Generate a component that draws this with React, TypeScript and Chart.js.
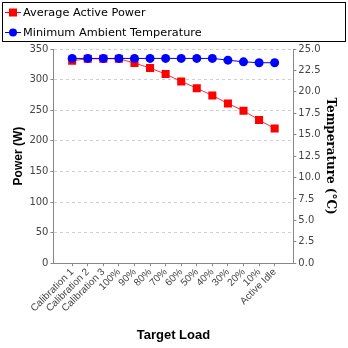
import React, { useEffect, useRef } from "react";
import { Chart, registerables } from "chart.js";

Chart.register(...registerables);

const categories = [
  "Calibration 1", "Calibration 2", "Calibration 3", "100%", "90%", "80%", "70%",
  "60%", "50%", "40%", "30%", "20%", "10%", "Active Idle",
];
const powerValues = [331, 334, 334, 334, 327, 319, 309, 297, 286, 274, 261, 249, 234, 220];
const tempValues = [23.9, 23.9, 23.9, 23.9, 23.9, 23.9, 23.9, 23.9, 23.9, 23.9, 23.7, 23.5, 23.4, 23.4];
const powerLabel = "Average Active Power";
const tempLabel = "Minimum Ambient Temperature";

const legendBox = {
  id: "legendBox",
  afterDraw(chart: any) {
    const ctx = chart.ctx;
    ctx.save();
    ctx.strokeStyle = "#000";
    ctx.lineWidth = 1;
    ctx.strokeRect(2.5, 2.5, 343, 39);
    const items = [
      { label: powerLabel, color: "#ff0000", shape: "rect", y: 12 },
      { label: tempLabel, color: "#0000ff", shape: "circle", y: 32 },
    ];
    ctx.font = "11.3px 'DejaVu Sans'";
    ctx.textBaseline = "middle";
    for (const it of items) {
      ctx.strokeStyle = it.color;
      ctx.fillStyle = it.color;
      ctx.beginPath();
      ctx.moveTo(5, it.y + 0.5);
      ctx.lineTo(21, it.y + 0.5);
      ctx.stroke();
      ctx.beginPath();
      if (it.shape === "rect") ctx.rect(9, it.y - 3.5, 8, 8);
      else ctx.arc(13, it.y + 0.5, 4, 0, Math.PI * 2);
      ctx.fill();
      ctx.fillStyle = "#000";
      ctx.fillText(it.label, 23, it.y + 1);
    }
    ctx.restore();
  },
};

export default function App() {
  const ref = useRef<HTMLCanvasElement>(null);
  useEffect(() => {
    document.body.style.margin = "0";
    const xs = categories.map((_, i) => i);
    const chart = new Chart(ref.current!, {
      type: "line",
      data: {
        datasets: [
          {
            label: powerLabel,
            data: powerValues.map((v, i) => ({ x: xs[i], y: v })),
            borderColor: "#ff3030",
            backgroundColor: "#ff0000",
            borderWidth: 1,
            pointStyle: "rect",
            pointRadius: 5.7,
            pointBorderWidth: 0,
            yAxisID: "y",
            order: 2,
          },
          {
            label: tempLabel,
            data: tempValues.map((v, i) => ({ x: xs[i], y: v })),
            borderColor: "#0000ff",
            backgroundColor: "#0000ff",
            borderWidth: 1,
            pointStyle: "circle",
            pointRadius: 4.5,
            pointBorderWidth: 0,
            yAxisID: "y1",
            order: 1,
          },
        ],
      },
      options: {
        responsive: false,
        animation: false,
        layout: { padding: { top: 49, left: 11, right: 9, bottom: 5 } },
        plugins: { legend: { display: false }, tooltip: { enabled: false } },
        scales: {
          x: {
            type: "linear",
            min: -1.2,
            max: categories.length - 1 + 1.2,
            afterBuildTicks: (scale: any) => {
              scale.ticks = categories.map((_, i) => ({ value: i }));
            },
            ticks: {
              callback: (v: any) => categories[v] ?? "",
              minRotation: 45,
              maxRotation: 45,
              autoSkip: false,
              color: "#444",
              font: { family: "'Liberation Sans'", size: 10 },
              padding: 0,
            },
            grid: { display: true, drawOnChartArea: false, drawTicks: true, tickLength: 3, color: "#888" },
            border: { color: "#888" },
            title: {
              display: true,
              text: "Target Load",
              color: "#000",
              font: { family: "'Liberation Sans'", size: 13, weight: "bold" },
              padding: { top: 13, bottom: 0 },
            },
          },
          y: {
            position: "left",
            min: 0,
            max: 350,
            ticks: {
              stepSize: 50,
              color: "#444",
              font: { family: "'DejaVu Sans'", size: 10 },
              padding: 2,
            },
            grid: {
              color: "#d0d0d0",
              tickColor: "#888",
              tickLength: 3,
              drawTicks: true,
            },
            border: { color: "#888", dash: [3, 3] as any },
            title: {
              display: true,
              text: "Power (W)",
              color: "#000",
              font: { family: "'Liberation Sans'", size: 12, weight: "bold" },
              padding: { top: 0, bottom: 2 },
            },
          },
          y1: {
            position: "right",
            min: 0,
            max: 25,
            ticks: {
              stepSize: 2.5,
              callback: (v: any) => Number(v).toFixed(1),
              color: "#444",
              font: { family: "'DejaVu Sans'", size: 10 },
              padding: 2,
            },
            grid: { drawOnChartArea: false, tickLength: 3, color: "#888" },
            border: { color: "#888" },
            title: {
              display: true,
              text: "Temperature (°C)",
              color: "#000",
              font: { family: "'DejaVu Serif'", size: 12, weight: "bold" },
              padding: { top: 2, bottom: 0 },
            },
          },
        },
      },
      plugins: [legendBox],
    } as any);
    return () => chart.destroy();
  }, []);
  return <canvas ref={ref} width={348} height={348} style={{ display: "block" }} />;
}
